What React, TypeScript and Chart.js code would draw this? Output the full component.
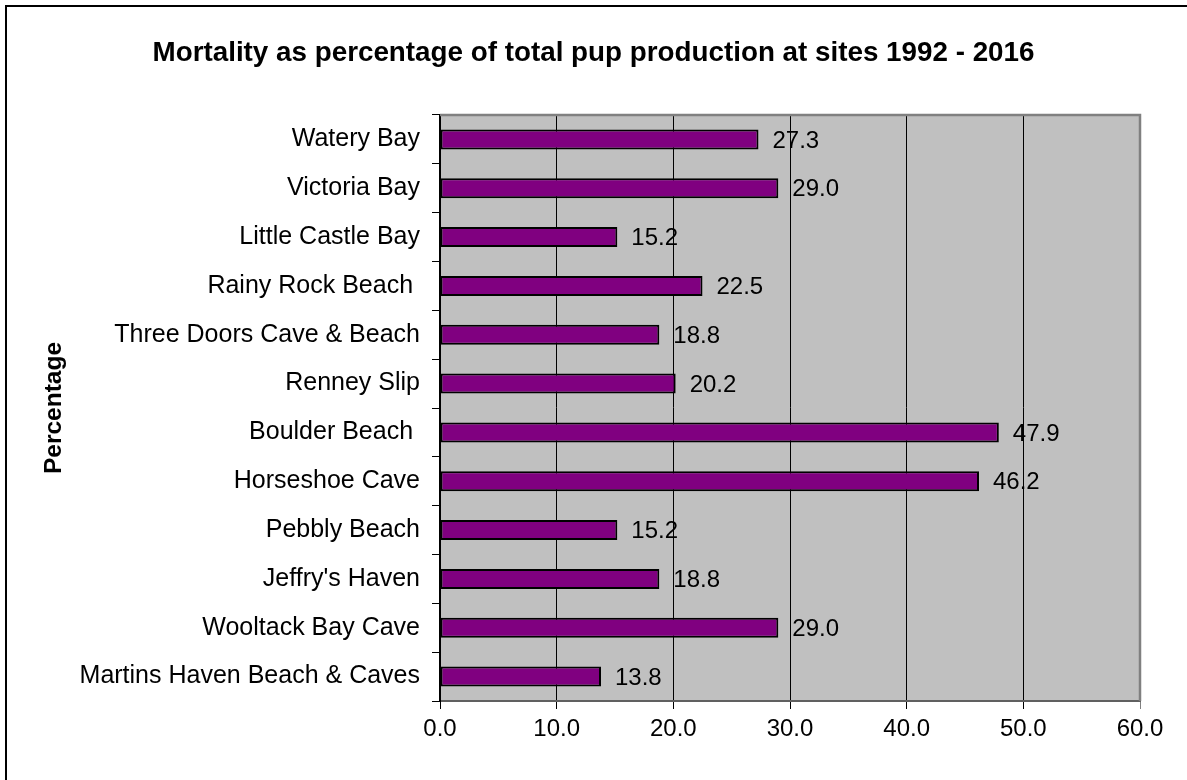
import React, { useEffect, useRef } from "react";
import { Chart, registerables } from "chart.js";

Chart.register(...registerables);

const TITLE = "Mortality as percentage of total pup production at sites 1992 - 2016";
const Y_TITLE = "Percentage";
const SITES = [
  "Watery Bay",
  "Victoria Bay",
  "Little Castle Bay",
  "Rainy Rock Beach ",
  "Three Doors Cave & Beach",
  "Renney Slip",
  "Boulder Beach ",
  "Horseshoe Cave",
  "Pebbly Beach",
  "Jeffry's Haven",
  "Wooltack Bay Cave",
  "Martins Haven Beach & Caves",
];
const MORTALITY = [27.3, 29.0, 15.2, 22.5, 18.8, 20.2, 47.9, 46.2, 15.2, 18.8, 29.0, 13.8];
const X_MIN = 0;
const X_MAX = 60;
const X_STEP = 10;

const FONT = "Arial, 'Liberation Sans', sans-serif";

const decorPlugin = {
  id: "decor",
  beforeDraw(chart: any) {
    const { ctx, chartArea: a } = chart;
    ctx.save();
    ctx.fillStyle = "#ffffff";
    ctx.fillRect(0, 0, chart.width, chart.height);
    ctx.fillStyle = "#C0C0C0";
    ctx.fillRect(a.left, a.top, a.right - a.left, a.bottom - a.top);
    ctx.restore();
  },
  afterDraw(chart: any) {
    const { ctx, chartArea: a } = chart;
    ctx.save();
    ctx.strokeStyle = "#808080";
    ctx.lineWidth = 2.5;
    ctx.beginPath();
    ctx.moveTo(a.left, a.top);
    ctx.lineTo(a.right, a.top);
    ctx.lineTo(a.right, a.bottom);
    ctx.stroke();
    ctx.strokeStyle = "#000000";
    ctx.lineWidth = 2;
    ctx.beginPath();
    ctx.moveTo(6, chart.height);
    ctx.lineTo(6, 6);
    ctx.lineTo(chart.width, 6);
    ctx.stroke();
    ctx.fillStyle = "#000";
    ctx.font = `bold 27.8px ${FONT}`;
    ctx.textAlign = "center";
    ctx.textBaseline = "alphabetic";
    ctx.fillText(TITLE, chart.width / 2, 61);
    ctx.save();
    ctx.translate(61, (a.top + a.bottom) / 2);
    ctx.rotate(-Math.PI / 2);
    ctx.font = `bold 24.5px ${FONT}`;
    ctx.fillText(Y_TITLE, 0, 0);
    ctx.restore();
    ctx.restore();
  },
  afterDatasetsDraw(chart: any) {
    const { ctx } = chart;
    const meta = chart.getDatasetMeta(0);
    ctx.save();
    ctx.fillStyle = "#000";
    ctx.font = `24px ${FONT}`;
    ctx.textAlign = "left";
    ctx.textBaseline = "middle";
    meta.data.forEach((bar: any, i: number) => {
      ctx.fillText(MORTALITY[i].toFixed(1), bar.x + 14, bar.y + 1.5);
    });
    ctx.restore();
  },
};

export default function App() {
  const ref = useRef<HTMLCanvasElement>(null);
  useEffect(() => {
    if (!ref.current) return;
    const chart = new Chart(ref.current, {
      type: "bar",
      data: {
        labels: SITES,
        datasets: [
          {
            data: MORTALITY,
            backgroundColor: "#800080",
            borderColor: "#000000",
            borderWidth: 2,
            borderSkipped: false,
            barPercentage: 0.41,
            categoryPercentage: 1.0,
          },
        ],
      },
      options: {
        indexAxis: "y",
        responsive: false,
        animation: false,
        layout: { padding: { left: 0, top: 115, right: 47, bottom: 0 } },
        plugins: {
          legend: { display: false },
          tooltip: { enabled: false },
          title: { display: false },
        },
        scales: {
          x: {
            type: "linear",
            min: X_MIN,
            max: X_MAX,
            afterFit(scale: any) {
              scale.height = 79;
            },
            ticks: {
              stepSize: X_STEP,
              callback: (v: any) => Number(v).toFixed(1),
              color: "#000",
              font: { family: FONT, size: 24 },
              padding: 6,
              maxRotation: 0,
            },
            grid: {
              color: (c: any) => (c.tick && c.tick.value === X_MAX ? "#808080" : "#000000"),
              lineWidth: 1,
              tickLength: 8,
            },
            border: { display: true, color: "#606060", width: 2 },
          },
          y: {
            type: "category",
            afterFit(scale: any) {
              scale.width = 440;
            },
            ticks: {
              color: "#000",
              font: { family: FONT, size: 25 },
              padding: 12,
              autoSkip: false,
            },
            grid: {
              offset: true,
              drawOnChartArea: false,
              color: "#000",
              tickLength: 8,
            },
            border: { display: true, color: "#000", width: 2 },
          },
        },
      },
      plugins: [decorPlugin],
    });
    return () => chart.destroy();
  }, []);
  return (
    <div style={{ position: "fixed", left: 0, top: 0, width: 1187, height: 780, background: "#fff" }}>
      <canvas ref={ref} width={1187} height={780} style={{ display: "block" }} />
    </div>
  );
}
